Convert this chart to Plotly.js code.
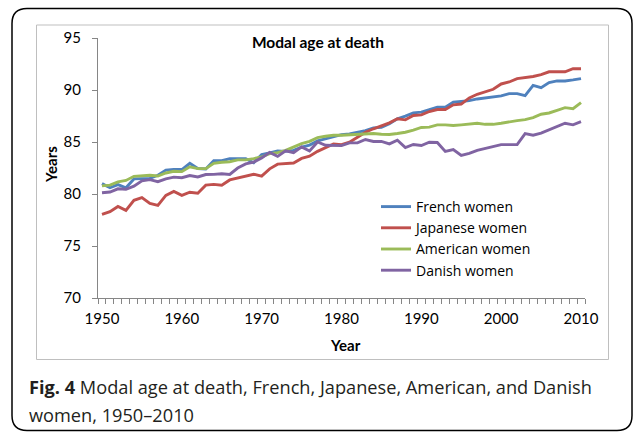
<!DOCTYPE html>
<html>
<head>
<meta charset="utf-8">
<script src="https://cdn.plot.ly/plotly-3.0.1.min.js"></script>
<style>html,body{margin:0;padding:0;background:#fff;}#chart{width:636px;height:432px;}</style>
</head>
<body>
<div id="chart"></div>
<script>
const years = [];
for (let y = 1950; y <= 2010; y++) years.push(y);

const french = [81.0,80.6,80.9,80.6,81.45,81.45,81.5,81.8,82.3,82.35,
  82.35,82.95,82.45,82.4,83.2,83.2,83.4,83.4,83.4,83.0,
  83.8,83.95,84.15,84.1,84.2,84.5,84.7,85.1,85.3,85.5,
  85.7,85.78,85.94,86.1,86.36,86.4,86.75,87.23,87.48,87.8,
  87.87,88.12,88.35,88.35,88.83,88.9,88.98,89.14,89.24,89.27,
  89.43,89.65,89.65,89.45,90.45,90.23,90.71,90.87,90.87,90.97,91.1];
const japanese = [78.03,78.3,78.8,78.43,79.39,79.65,79.1,78.9,79.87,80.25,
  79.87,80.17,80.08,80.85,80.92,80.85,81.35,81.55,81.72,81.9,
  81.72,82.42,82.87,82.9,82.98,83.42,83.63,84.1,84.45,84.82,
  84.75,84.98,85.46,85.94,86.27,86.52,86.84,87.23,87.13,87.55,
  87.61,87.93,88.12,88.12,88.57,88.65,89.24,89.59,89.81,90.07,
  90.58,90.77,91.1,91.2,91.3,91.48,91.75,91.75,91.75,92.05,92.05];
const american = [80.78,80.85,81.17,81.3,81.7,81.73,81.8,81.73,82.02,82.18,
  82.15,82.62,82.44,82.44,82.95,83.05,83.1,83.28,83.28,83.4,
  83.56,83.88,83.98,84.2,84.53,84.85,85.07,85.42,85.55,85.65,
  85.65,85.69,85.72,85.75,85.82,85.75,85.72,85.82,85.94,86.14,
  86.4,86.43,86.65,86.65,86.59,86.65,86.7,86.8,86.7,86.7,
  86.8,86.96,87.06,87.15,87.34,87.67,87.79,88.05,88.3,88.21,88.79];
const danish = [80.12,80.19,80.5,80.45,80.75,81.27,81.38,81.18,81.45,81.62,
  81.57,81.78,81.64,81.87,81.89,81.95,81.88,82.5,82.9,83.07,
  83.47,84.0,83.62,84.15,83.98,84.53,84.14,85.0,84.69,84.69,
  84.65,84.92,84.92,85.24,85.05,85.05,84.82,85.17,84.47,84.76,
  84.66,84.98,84.95,84.09,84.28,83.7,83.9,84.2,84.4,84.55,
  84.75,84.75,84.75,85.8,85.65,85.85,86.15,86.45,86.8,86.65,86.95];

const seriesNames = ['French women','Japanese women','American women','Danish women'];
const seriesColors = ['#4F81BD','#C0504D','#9BBB59','#8064A2'];
const seriesData = [french, japanese, american, danish];

const yTicks = [70,75,80,85,90,95];
const xLabelYears = years.filter(y => y % 10 === 0);
const xBoundaries = years.map(y => y - 0.5).concat([years[years.length-1] + 0.5]);

// plot area in pixels
const L = 98, R = 585, T = 38, B = 298;
const px = x => (x - L) / (R - L);
const py = y => (B - y) / (B - T);

const FONT = 'Lato, "Liberation Sans", Arial, sans-serif';
const LEGFONT = '"Open Sans", Lato, sans-serif';

const traces = seriesData.map((d, i) => ({
  type: 'scatter', mode: 'lines', x: years, y: d, name: seriesNames[i],
  line: {color: seriesColors[i], width: 2.9}
}));

function roundRect(x0, y0, x1, y1, r) {
  const rx = r / (R - L), ry = r / (B - T);
  const X0 = px(x0), X1 = px(x1), Y0 = py(y0), Y1 = py(y1);
  return `M ${X0+rx},${Y0} L ${X1-rx},${Y0} Q ${X1},${Y0} ${X1},${Y0-ry} ` +
         `L ${X1},${Y1+ry} Q ${X1},${Y1} ${X1-rx},${Y1} ` +
         `L ${X0+rx},${Y1} Q ${X0},${Y1} ${X0},${Y1+ry} ` +
         `L ${X0},${Y0-ry} Q ${X0},${Y0} ${X0+rx},${Y0} Z`;
}

const layout = {
  width: 636, height: 432,
  margin: {l: L, r: 636 - R, t: T, b: 432 - B, pad: 0},
  paper_bgcolor: '#ffffff', plot_bgcolor: '#ffffff',
  font: {family: FONT, size: 15, color: '#000'},
  showlegend: true,
  title: {text: '<b>Modal age at death</b>', x: 318/636, xref: 'container', xanchor: 'center',
          y: 1 - 43/432, yref: 'container', yanchor: 'middle', font: {family: FONT, size: 15.5, color: '#000'}},
  xaxis: {
    range: [1949.5, 2010.5], tickmode: 'array', tickvals: xLabelYears, ticktext: xLabelYears.map(String),
    ticks: '', showgrid: false, zeroline: false, showline: true, linecolor: '#868686', linewidth: 1,
    ticklabelstandoff: 7, tickfont: {family: FONT, size: 15, color: '#000'},
    minor: {tickmode: 'array', tickvals: xBoundaries, ticks: 'outside', ticklen: 5, tickcolor: '#868686', tickwidth: 1, showgrid: false}
  },
  yaxis: {
    range: [70, 95], tickmode: 'array', tickvals: yTicks, ticktext: yTicks.map(String),
    ticks: 'outside', ticklen: 5, tickcolor: '#868686', tickwidth: 1,
    showgrid: false, zeroline: false, showline: true, linecolor: '#868686', linewidth: 1,
    ticklabelstandoff: 8, tickfont: {family: FONT, size: 15, color: '#000'}
  },
  legend: {
    x: px(376), y: py(191), xanchor: 'left', yanchor: 'top',
    bgcolor: 'rgba(0,0,0,0)', borderwidth: 0,
    font: {family: LEGFONT, size: 14, color: '#000'}, tracegroupgap: 0
  },
  shapes: [
    {type: 'rect', xref: 'paper', yref: 'paper', x0: px(36.5), x1: px(608.5), y0: py(25), y1: py(359.5),
     line: {color: '#BFBFBF', width: 1}, fillcolor: 'rgba(0,0,0,0)', layer: 'below'},
    {type: 'path', xref: 'paper', yref: 'paper', path: roundRect(12, 8.5, 632, 430.5, 15),
     line: {color: '#000', width: 1.5}, fillcolor: 'rgba(0,0,0,0)'}
  ],
  annotations: [
    {text: '<b>Years</b>', xref: 'paper', yref: 'paper', x: px(51), y: py(165), textangle: -90,
     showarrow: false, xanchor: 'center', yanchor: 'middle', font: {family: FONT, size: 15, color: '#000'}},
    {text: '<b>Year</b>', xref: 'paper', yref: 'paper', x: px(345), y: py(345),
     showarrow: false, xanchor: 'center', yanchor: 'middle', font: {family: FONT, size: 15, color: '#000'}},
    {text: '<b>Fig. 4</b> Modal age at death, French, Japanese, American, and Danish', xref: 'paper', yref: 'paper',
     x: px(27), y: py(387), showarrow: false, xanchor: 'left', yanchor: 'middle',
     font: {family: '"Open Sans", sans-serif', size: 18.2, color: '#231F20'}},
    {text: 'women, 1950–2010', xref: 'paper', yref: 'paper',
     x: px(27), y: py(415), showarrow: false, xanchor: 'left', yanchor: 'middle',
     font: {family: '"Open Sans", sans-serif', size: 18.2, color: '#231F20'}}
  ]
};

Plotly.newPlot('chart', traces, layout, {staticPlot: true, displayModeBar: false});
</script>
</body>
</html>
